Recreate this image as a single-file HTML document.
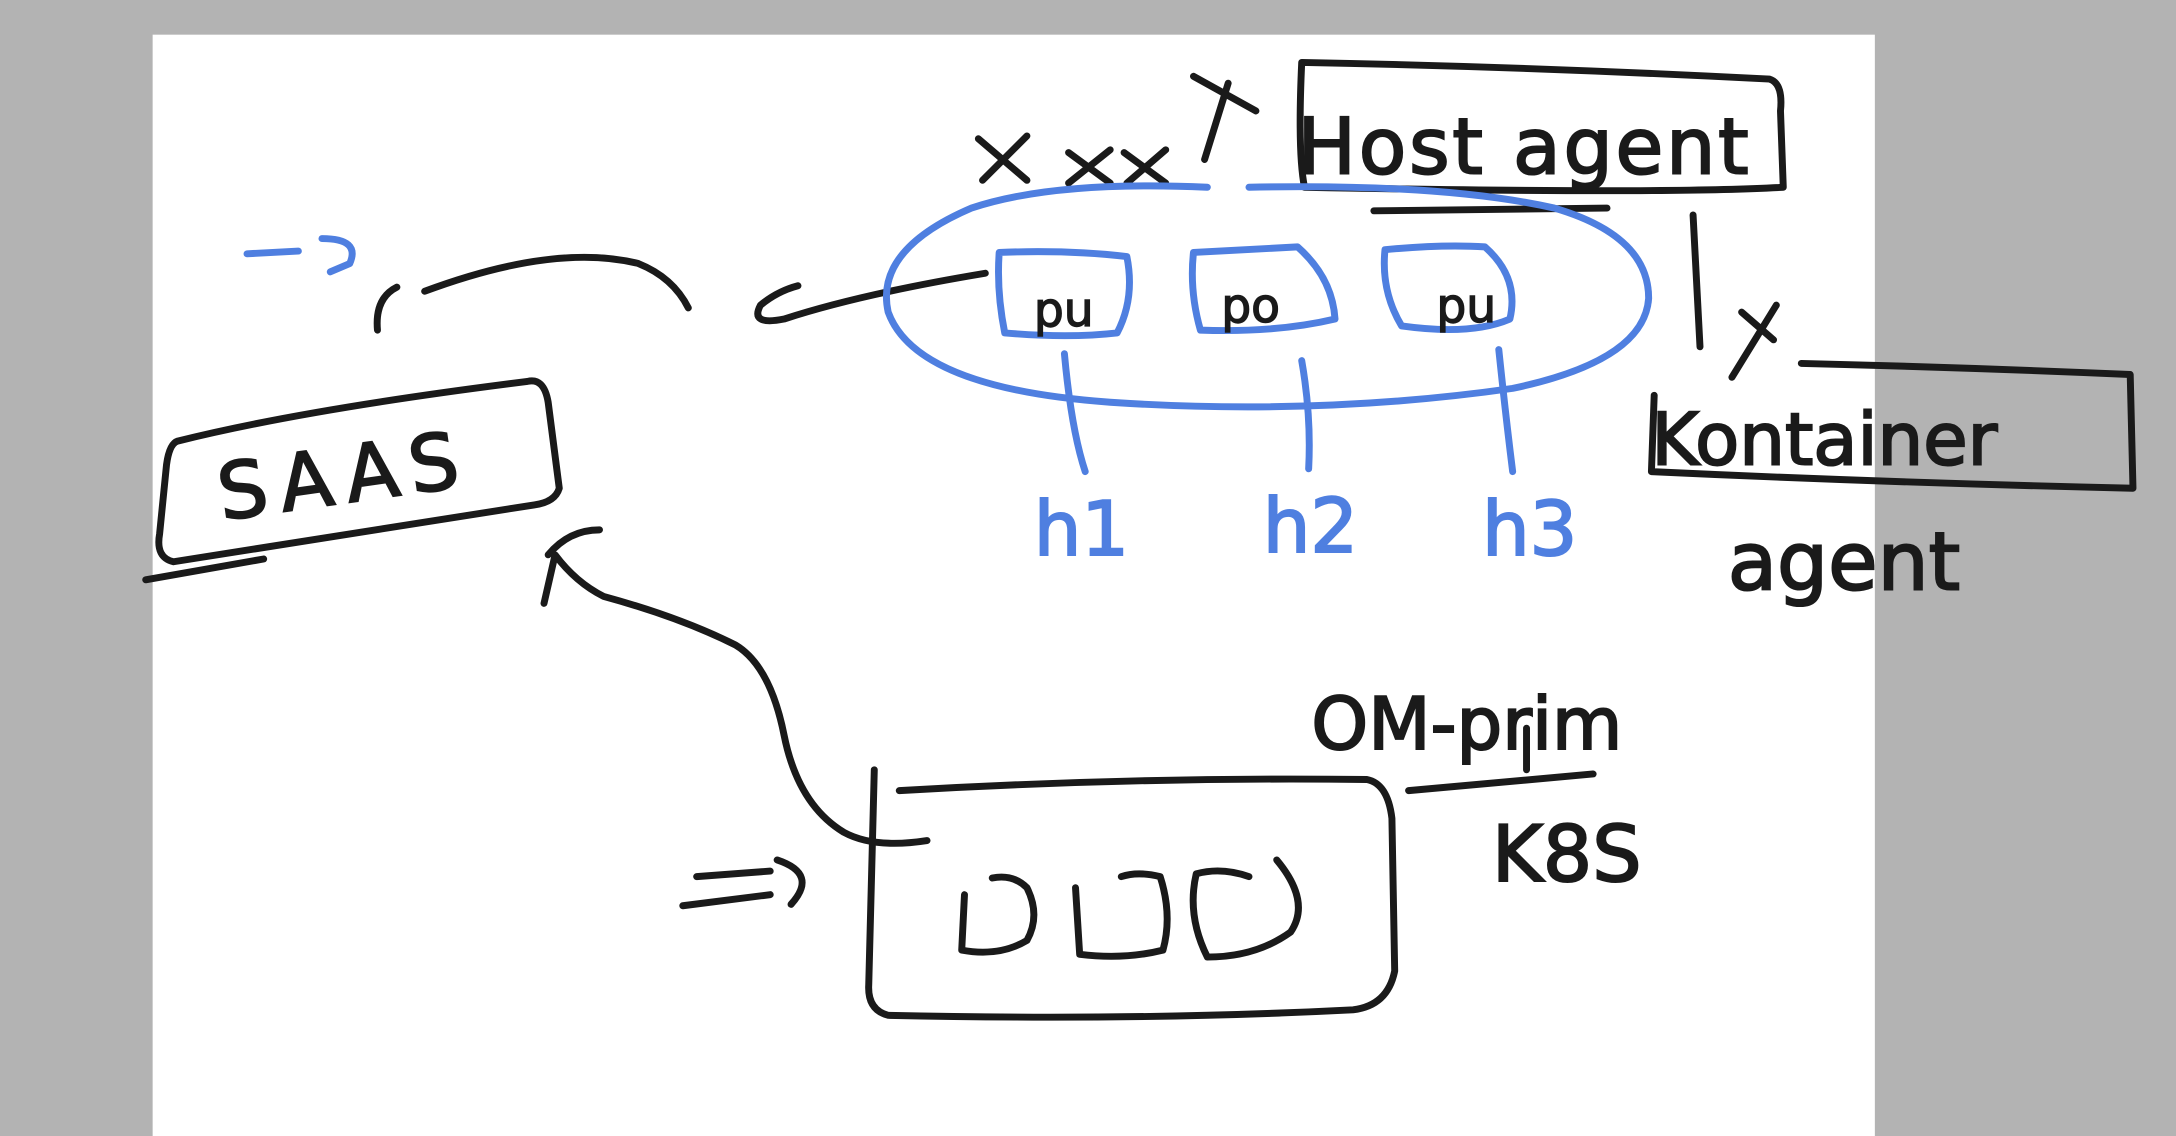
<!DOCTYPE html>
<html><head><meta charset="utf-8"><style>
html,body{margin:0;padding:0;background:#b3b3b3;}
svg{display:block}
text{font-family:"Comic Sans MS","DejaVu Sans","Liberation Sans",cursive,sans-serif;}
</style></head><body>
<svg width="2176" height="1136" viewBox="0 0 1568 819" preserveAspectRatio="none" xmlns="http://www.w3.org/2000/svg">
<rect x="0" y="0" width="1568" height="819" fill="#b3b3b3"/>
<rect x="110" y="25" width="1241" height="794" fill="#ffffff"/>
<g fill="none" stroke="#1a1a1a" stroke-width="5" stroke-linecap="round" stroke-linejoin="round">
  <path d="M128 318 Q220 295 380 275 Q392 272 395 290 L403 352 Q400 362 385 364 Q250 385 125 405 Q112 402 115 385 L120 335 Q122 320 128 318 Z M105 418 L190 403"/>
  <path d="M272 238 Q270 215 286 207 M306 210 Q400 175 460 190 Q485 200 496 222"/>
  <path d="M710 197 Q620 212 565 230 Q540 235 548 220 Q560 210 575 206"/>
  <path d="M938 45 Q1100 48 1275 57 Q1285 60 1283 80 L1285 135 Q1200 140 940 135 Q935 110 938 45 Z M990 152 L1158 150 M1220 155 L1225 250"/>
  <path d="M705 100 L740 130 M740 98 L708 130 M770 110 L800 132 M800 108 L770 132 M810 110 L840 132 M840 108 L812 132 M860 55 L905 80 M885 60 L868 115 M1255 225 L1278 245 M1280 220 L1248 272"/>
  <path d="M1298 262 Q1420 265 1535 270 L1537 352 Q1360 348 1190 340 M1190 340 L1192 285"/>
  <path d="M668 606 Q630 612 608 600 Q575 580 565 530 Q555 480 530 465 Q490 445 435 430 Q415 420 400 400 L392 435 M395 400 Q410 382 432 382"/>
  <path d="M648 570 Q820 560 985 562 Q1000 565 1003 590 L1005 700 Q1000 725 975 728 Q820 736 640 732 Q625 728 626 710 L630 555"/>
  <path d="M695 645 L693 685 Q720 690 740 678 Q750 660 740 640 Q730 630 715 633"/>
  <path d="M775 640 L778 688 Q810 692 838 685 Q845 660 836 632 Q820 628 808 632"/>
  <path d="M862 630 Q855 660 870 690 Q905 690 930 672 Q945 650 920 620 M862 630 Q880 625 900 632"/>
  <path d="M502 632 L555 628 M492 653 L555 645 M560 620 Q590 630 570 652"/>
  <path d="M1015 570 L1148 558 M1100 525 L1100 555"/>
</g>
<g fill="none" stroke="#4f7fe0" stroke-width="5" stroke-linecap="round" stroke-linejoin="round">
  <path d="M870 135 Q760 130 700 150 Q630 180 640 225 Q660 280 800 290 Q950 300 1090 280 Q1185 260 1188 215 Q1188 170 1120 150 Q1040 132 900 135"/>
  <path d="M720 182 Q770 180 812 185 Q818 215 805 240 Q770 244 724 240 Q718 210 720 182 Z"/>
  <path d="M860 182 Q900 180 935 178 Q960 200 962 230 Q920 240 865 238 Q857 210 860 182 Z"/>
  <path d="M998 180 Q1040 176 1070 178 Q1095 200 1088 230 Q1060 242 1010 235 Q995 210 998 180 Z"/>
  <path d="M767 255 Q772 310 782 340"/>
  <path d="M938 260 Q945 300 943 338"/>
  <path d="M1080 252 Q1085 300 1090 340"/>
  <path d="M178 183 L215 181 M232 172 Q260 172 252 190 L238 196"/>
</g>
<g fill="#1a1a1a" stroke="#1a1a1a" stroke-width="1.5" font-size="56">
  <text x="160" y="375" transform="rotate(-8 160 375)" letter-spacing="8">SAAS</text>
  <text x="935" y="125" letter-spacing="2">Host agent</text>
  <text x="1190" y="335" font-size="52">Kontainer</text>
  <text x="1245" y="425" font-size="58">agent</text>
  <text x="945" y="540" font-size="52">OM-prim</text>
  <text x="1075" y="635" font-size="56">K8S</text>
</g>
<g fill="#4f7fe0" stroke="#4f7fe0" stroke-width="1.5" font-size="54">
  <text x="745" y="400">h1</text>
  <text x="910" y="398">h2</text>
  <text x="1068" y="400">h3</text>
</g>
<g fill="#1a1a1a" stroke="#1a1a1a" stroke-width="1" font-size="34">
  <text x="745" y="235">pu</text>
  <text x="880" y="232">po</text>
  <text x="1035" y="232">pu</text>
</g>
</svg>
</body></html>
